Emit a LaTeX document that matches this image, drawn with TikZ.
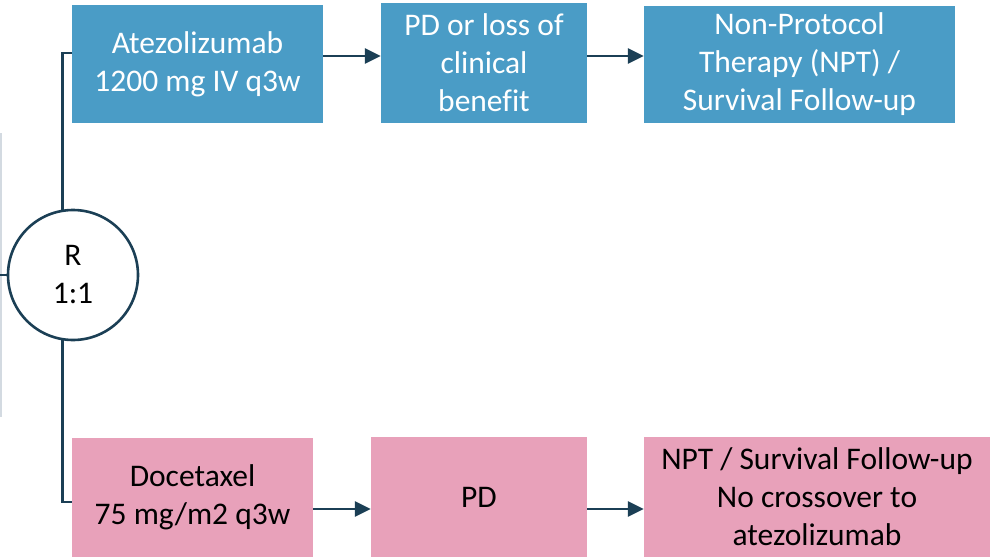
\documentclass[tikz,border=0pt]{standalone}
\usepackage{fontspec}
\setmainfont[Ligatures=NoCommon]{Carlito}
\usetikzlibrary{arrows.meta}
\definecolor{boxblue}{HTML}{4A9CC6}
\definecolor{boxpink}{HTML}{E8A1BA}
\definecolor{linedark}{HTML}{1B3F55}
\definecolor{edgegray}{HTML}{D3DAE1}
\begin{document}
\begin{tikzpicture}[x=1pt,y=-1pt,
  every node/.style={font=\fontsize{31.5pt}{38pt}\selectfont, align=center, inner sep=0pt},
  bluebox/.style={fill=boxblue, text=white},
  pinkbox/.style={fill=boxpink, text=black},
  conn/.style={draw=linedark, line width=2.8pt},
  arr/.style={conn, -{Triangle[length=16pt,width=15pt]}},
  rcircle/.style={circle, draw=linedark, line width=2.6pt, fill=white, minimum size=130pt}]
\useasboundingbox (0,0) rectangle (990,557);
% left edge line
\draw[edgegray, line width=1.5pt] (0.75,133) -- (0.75,417);
% nodes
\node[bluebox, minimum width=251pt, minimum height=118pt] (A1) at (197.5,64) {Atezolizumab\\1200 mg IV q3w};
\node[bluebox, minimum width=206pt, minimum height=120pt] (A2) at (484,63) {PD or loss of\\clinical\\benefit};
\node[bluebox, minimum width=311pt, minimum height=117pt] (A3) at (799.5,64.5) {Non-Protocol\\Therapy (NPT) /\\Survival Follow-up};
\node[pinkbox, minimum width=241pt, minimum height=119pt] (B1) at (192.5,497.5) {Docetaxel\\75 mg/m2 q3w};
\node[pinkbox, minimum width=216pt, minimum height=120pt] (B2) at (479,497) {PD};
\node[pinkbox, minimum width=346pt, minimum height=120pt] (B3) at (817,497) {NPT / Survival Follow-up\\No crossover to\\atezolizumab};
\node[rcircle] (R) at (73,275) {R\\1:1};
\coordinate (L) at (0,275);
% connectors
\draw[conn] (L) -- (R.west);
\draw[conn] (R.99) |- ([yshift=11pt]A1.west);
\draw[conn] (R.261) |- ([yshift=-4.5pt]B1.west);
\draw[arr] ([yshift=8pt]A1.east) -- ([yshift=7pt]A2.west);
\draw[arr] ([yshift=7pt]A2.east) -- ([yshift=8.5pt]A3.west);
\draw[arr] ([yshift=-11.5pt]B1.east) -- ([yshift=-12pt]B2.west);
\draw[arr] ([yshift=-12pt]B2.east) -- ([yshift=-12pt]B3.west);
\end{tikzpicture}
\end{document}
